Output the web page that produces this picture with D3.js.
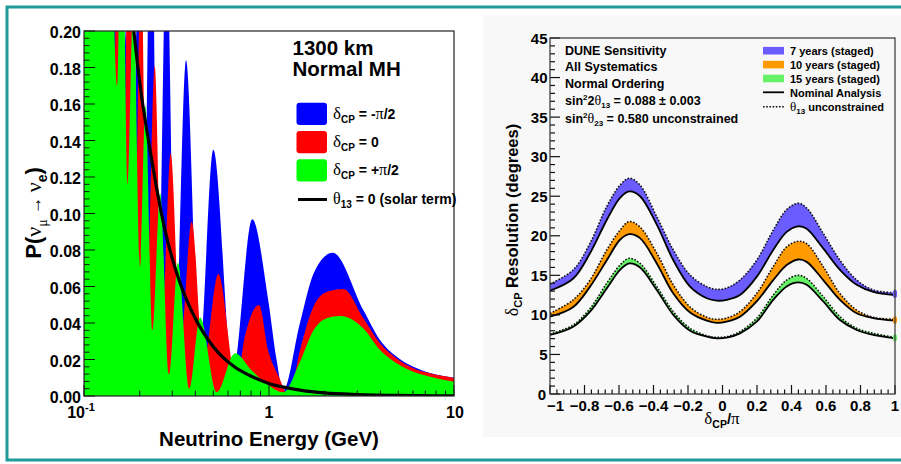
<!DOCTYPE html>
<html><head><meta charset="utf-8">
<script src="https://cdn.jsdelivr.net/npm/d3@7/dist/d3.min.js"></script>
<style>
body{margin:0;background:#fff}
svg{display:block}
text{font-family:"Liberation Sans",Arial,Helvetica,sans-serif;font-weight:bold;fill:#000}
.gr{font-family:"Liberation Serif","DejaVu Serif",serif;font-weight:normal}
</style>
</head><body>
<svg id="c" width="901" height="464"></svg>
<script>
// ---------- LEFT PANEL DATA: P(numu -> nue) vs neutrino energy (GeV) ----------
const probBlue = [ // delta_CP = -pi/2
  [0.100,0.30],[0.140,0.26],[0.150,0.20],[0.160,0.10],[0.168,0.20],[0.182,0.09],[0.195,0.22],[0.211,0.07],
  [0.230,0.30],[0.252,0.05],[0.279,0.25],[0.3125,0.035],[0.356,0.184],[0.420,0.022],[0.500,0.135],
  [0.637,0.012],[0.812,0.0968],[0.990,0.0526],[1.10,0.0196],[1.19,0.003],[1.47,0.040],[1.74,0.067],
  [2.21,0.0785],[3.24,0.047],[3.98,0.0307],[4.90,0.0215],[6.03,0.016],[7.41,0.0126],[10,0.0100]
];
const probRed = [ // delta_CP = 0
  [0.100,0.45],[0.130,0.20],[0.145,0.15],[0.154,0.37],[0.164,0.12],[0.175,0.30],[0.189,0.09],[0.203,0.24],
  [0.220,0.065],[0.241,0.181],[0.265,0.045],[0.294,0.133],[0.333,0.030],[0.382,0.0955],[0.444,0.018],
  [0.532,0.0668],[0.667,0.008],[0.740,0.0325],[0.883,0.0499],[0.990,0.025],[1.13,0.0106],[1.28,0.0],
  [1.47,0.025],[1.74,0.049],[2.05,0.057],[2.52,0.0586],[3.24,0.0426],[3.98,0.0289],[4.90,0.0206],
  [6.03,0.0152],[7.41,0.0124],[10,0.0099]
];
const probGreen = [ // delta_CP = +pi/2
  [0.100,0.40],[0.125,0.32],[0.140,0.26],[0.151,0.17],[0.160,0.30],[0.172,0.116],[0.185,0.22],[0.201,0.071],
  [0.215,0.159],[0.234,0.036],[0.258,0.111],[0.288,0.012],[0.322,0.073],[0.370,0.004],[0.424,0.043],
  [0.521,0.002],[0.655,0.0234],[0.806,0.014],[0.990,0.006],[1.19,0.002],[1.47,0.0188],[1.74,0.036],
  [2.05,0.0426],[2.42,0.0438],[3.24,0.037],[3.98,0.0252],[4.90,0.0179],[6.03,0.0133],[7.41,0.0106],[10,0.0078]
];
const probSolar = [ // theta13 = 0 (solar term)
  [0.170,0.24],[0.186,0.20],[0.200,0.172],[0.230,0.132],[0.271,0.093],[0.333,0.061],[0.393,0.044],
  [0.500,0.027],[0.650,0.016],[0.804,0.0108],[1.00,0.0069],[1.22,0.0047],[1.50,0.0031],[2.00,0.0017],
  [3.00,0.0008],[5.00,0.0003],[10,0.0001]
];
const probYTicks = [0,0.02,0.04,0.06,0.08,0.10,0.12,0.14,0.16,0.18,0.20];
const energyTicks = [0.1,1,10];

// ---------- RIGHT PANEL DATA: delta_CP resolution (degrees) vs delta_CP/pi ----------
const deltaGrid = [-1,-0.865,-0.768,-0.671,-0.594,-0.54,-0.478,-0.381,-0.285,-0.188,-0.091,-0.034,
  0.024,0.101,0.198,0.294,0.372,0.439,0.488,0.584,0.681,0.778,0.874,1.0];
const res7Unc  = [13.9,15.7,19.05,23.7,26.4,27.27,26.4,22.4,18.2,15.04,13.57,13.23,13.4,14.4,16.9,20.7,23.3,24.1,23.5,20.3,16.9,14.4,13.15,12.8];
const res7Nom  = [13.06,14.6,17.8,22.0,24.8,25.6,25.0,21.4,16.9,13.57,12.1,11.8,11.9,12.5,14.8,18.2,20.5,21.2,20.9,18.4,15.7,13.8,12.9,12.5];
const res10Unc = [10.2,11.9,14.4,18.2,20.7,21.8,21.1,17.8,13.8,11.0,9.7,9.44,9.6,10.4,12.7,16.1,18.6,19.3,19.0,16.1,12.7,10.6,9.7,9.44];
const res10Nom = [9.77,11.0,13.57,16.9,19.5,20.2,19.7,16.5,12.7,10.3,9.27,9.0,9.15,9.77,11.7,14.4,16.3,17.0,16.7,14.4,11.9,10.2,9.6,9.27];
const res15Unc = [7.59,8.72,10.8,14.0,16.3,17.15,16.5,13.57,10.4,8.3,7.37,7.16,7.25,7.88,9.56,12.5,14.4,15.0,14.6,12.3,9.77,8.3,7.67,7.16];
const res15Nom = [7.46,8.5,10.4,13.35,15.7,16.5,16.0,13.15,10.0,8.0,7.25,7.04,7.12,7.67,9.14,11.9,13.6,14.1,13.8,11.7,9.35,8.09,7.46,7.04];
const resYTicks = [0,5,10,15,20,25,30,35,40,45];
const deltaTicks = [-1,-0.8,-0.6,-0.4,-0.2,0,0.2,0.4,0.6,0.8,1];
const bandLabels = ["7 years (staged)","10 years (staged)","15 years (staged)"];
const bandColors = ["#6b5cff","#ff9a00","#66f266"];
const infoLines = ["DUNE Sensitivity","All Systematics","Normal Ordering"];

// ---------- helpers ----------
const svg = d3.select('#c');
function rich(g, x, y, parts, opts) {
  opts = opts || {};
  const t = g.append('text').attr('x',x).attr('y',y).attr('font-size',opts.size||14);
  if (opts.anchor) t.attr('text-anchor',opts.anchor);
  if (opts.transform) t.attr('transform',opts.transform);
  let shift = 0;
  parts.forEach(p => {
    const s = t.append('tspan').text(p.t);
    const target = p.dy || 0;
    if (target !== shift) { s.attr('dy', target - shift); shift = target; }
    if (p.size) s.attr('font-size', p.size);
    if (p.gr) s.attr('class','gr');
  });
  return t;
}

// ---------- background & frame ----------
svg.append('rect').attr('width',901).attr('height',464).attr('fill','#fff');
svg.append('rect').attr('x',483).attr('y',15).attr('width',418).attr('height',422).attr('fill','#f8f8f8');
svg.append('path').attr('d','M905,7 H7 V460 H905').attr('fill','none').attr('stroke','#1f9c9a').attr('stroke-width',3);

// ================= LEFT PANEL =================
const L = {x0:84, x1:454, y0:31, y1:396};
const xE = d3.scaleLog().domain([0.1,10]).range([L.x0,L.x1]);
const yP = d3.scaleLinear().domain([0,0.2]).range([L.y1,L.y0]);
const gl = svg.append('g');
gl.append('clipPath').attr('id','clipL').append('rect')
  .attr('x',L.x0).attr('y',L.y0).attr('width',L.x1-L.x0).attr('height',L.y1-L.y0);
const areaP = d3.area().x(d=>xE(d[0])).y0(yP(0)).y1(d=>yP(d[1])).curve(d3.curveMonotoneX);
const gf = gl.append('g').attr('clip-path','url(#clipL)');
gf.append('path').datum(probBlue).attr('d',areaP).attr('fill','#0000ff');
gf.append('path').datum(probRed).attr('d',areaP).attr('fill','#ff0000');
gf.append('path').datum(probGreen).attr('d',areaP).attr('fill','#00ff00');
gf.append('path').datum(probSolar)
  .attr('d', d3.line().x(d=>xE(d[0])).y(d=>yP(d[1])).curve(d3.curveMonotoneX))
  .attr('fill','none').attr('stroke','#000').attr('stroke-width',3.2);

// ticks left y
const ytk = d3.range(0,0.2001,0.004);
ytk.forEach((v,i)=>{
  const major = i%5===0;
  gl.append('line').attr('x1',L.x0).attr('x2',L.x0+(major?11:5.5))
    .attr('y1',yP(v)).attr('y2',yP(v)).attr('stroke','#111').attr('stroke-width',1);
});
probYTicks.forEach(v=>{
  gl.append('text').attr('x',81).attr('y',yP(v)+7).attr('text-anchor','end')
    .attr('font-size',16).text(d3.format('.2f')(v));
});
// ticks left x (log)
[0.1,1].forEach(dec=>{
  for (let k=2;k<=9;k++){
    const v=dec*k;
    gl.append('line').attr('x1',xE(v)).attr('x2',xE(v)).attr('y1',L.y1).attr('y2',L.y1-5.5)
      .attr('stroke','#111').attr('stroke-width',1);
  }
});
energyTicks.forEach(v=>{
  gl.append('line').attr('x1',xE(v)).attr('x2',xE(v)).attr('y1',L.y1).attr('y2',L.y1-11)
    .attr('stroke','#111').attr('stroke-width',1);
});
rich(gl, xE(0.1)-3, 418, [{t:'10'},{t:'-1',dy:-7,size:11}], {size:16,anchor:'middle'});
gl.append('text').attr('x',xE(1)).attr('y',418).attr('text-anchor','middle').attr('font-size',16).text('1');
gl.append('text').attr('x',xE(10)+1).attr('y',418).attr('text-anchor','middle').attr('font-size',16).text('10');
// frame
gl.append('rect').attr('x',L.x0).attr('y',L.y0).attr('width',L.x1-L.x0).attr('height',L.y1-L.y0)
  .attr('fill','none').attr('stroke','#222').attr('stroke-width',1.2);
// axis titles
gl.append('text').attr('x',269).attr('y',446).attr('text-anchor','middle').attr('font-size',20.5)
  .text('Neutrino Energy (GeV)');
rich(gl, 0, 0, [{t:'P('},{t:'ν',gr:1},{t:'μ',gr:1,dy:6,size:14},{t:' → ',gr:1,size:18},{t:'ν',gr:1},
  {t:'e',dy:6,size:14},{t:')'}], {size:22,anchor:'middle',transform:'translate(41,213) rotate(-90)'});
// legend
gl.append('text').attr('x',292.5).attr('y',55).attr('font-size',20.5).text('1300 km');
gl.append('text').attr('x',292.5).attr('y',76).attr('font-size',20.5).text('Normal MH');
const legL = [
  {c:'#0000ff', y:102.7, txt:' = -'},
  {c:'#ff0000', y:131, txt:' = 0'},
  {c:'#00ff00', y:159.3, txt:' = +'}
];
legL.forEach((e,i)=>{
  gl.append('rect').attr('x',296.5).attr('y',e.y).attr('width',30.5).attr('height',22.3)
    .attr('rx',3).attr('fill',e.c);
  const parts=[{t:'δ',gr:1,size:17},{t:'CP',dy:4,size:10},{t:e.txt}];
  if(i!==1){ parts.push({t:'π',gr:1,size:16}); parts.push({t:'/2'}); }
  rich(gl, 333, e.y+16, parts, {size:14});
});
gl.append('line').attr('x1',298).attr('x2',327).attr('y1',199.5).attr('y2',199.5)
  .attr('stroke','#000').attr('stroke-width',3);
rich(gl, 333, 204, [{t:'θ',gr:1,size:16},{t:'13',dy:4,size:10},{t:' = 0 (solar term)'}], {size:14});

// ================= RIGHT PANEL =================
const R = {x0:550, x1:895, y0:38, y1:394};
const xD = d3.scaleLinear().domain([-1,1]).range([R.x0,R.x1]);
const yR = d3.scaleLinear().domain([0,45]).range([R.y1,R.y0]);
const gr = svg.append('g');
gr.append('clipPath').attr('id','clipR').append('rect')
  .attr('x',R.x0).attr('y',R.y0).attr('width',R.x1-R.x0).attr('height',R.y1-R.y0);
const gb = gr.append('g').attr('clip-path','url(#clipR)');
const bands = [[res7Nom,res7Unc],[res10Nom,res10Unc],[res15Nom,res15Unc]];
const curve = d3.curveCatmullRom.alpha(0.5);
bands.forEach((b,i)=>{
  const idx = d3.range(deltaGrid.length);
  gb.append('path').datum(idx)
    .attr('d', d3.area().x(j=>xD(deltaGrid[j])).y0(j=>yR(b[0][j])).y1(j=>yR(b[1][j])).curve(curve))
    .attr('fill', bandColors[i]);
  gb.append('path').datum(idx)
    .attr('d', d3.line().x(j=>xD(deltaGrid[j])).y(j=>yR(b[1][j])).curve(curve))
    .attr('fill','none').attr('stroke','#111').attr('stroke-width',1.6).attr('stroke-dasharray','1.6,1.6');
  gb.append('path').datum(idx)
    .attr('d', d3.line().x(j=>xD(deltaGrid[j])).y(j=>yR(b[0][j])).curve(curve))
    .attr('fill','none').attr('stroke','#000').attr('stroke-width',1.8);
});
// small end markers of the bands at delta = +1
bands.forEach((b,i)=>{
  const n = deltaGrid.length-1;
  gr.append('rect').attr('x',xD(deltaGrid[n])-2).attr('width',4)
    .attr('y',yR(b[1][n])-3).attr('height',yR(b[0][n])-yR(b[1][n])+6)
    .attr('rx',2).attr('fill',bandColors[i]);
});
// ticks right y
d3.range(0,45.01,1).forEach((v,i)=>{
  const major = i%5===0;
  gr.append('line').attr('x1',R.x0).attr('x2',R.x0+(major?10:5)).attr('y1',yR(v)).attr('y2',yR(v))
    .attr('stroke','#111').attr('stroke-width',1.2);
});
resYTicks.forEach(v=>{
  gr.append('text').attr('x',v===0?546:547.5).attr('y',yR(v)+5.5).attr('text-anchor','end').attr('font-size',15).text(v);
});
// ticks right x
d3.range(0,51).forEach(i=>{
  const v=-1+i*0.04;
  const major = i%5===0;
  gr.append('line').attr('x1',xD(v)).attr('x2',xD(v)).attr('y1',R.y1).attr('y2',R.y1-(major?9:4.5))
    .attr('stroke','#111').attr('stroke-width',1.2);
});
const fmtD = d => d===0 ? '0' : (d<0?'−':'') + String(+Math.abs(d).toFixed(1));
deltaTicks.forEach(v=>{
  const t = gr.append('text').attr('y',411).attr('font-size',15).text(fmtD(v));
  if (v===-1) t.attr('x',547).attr('text-anchor','start');
  else t.attr('x',xD(v)).attr('text-anchor','middle');
});
gr.append('rect').attr('x',R.x0).attr('y',R.y0).attr('width',R.x1-R.x0).attr('height',R.y1-R.y0)
  .attr('fill','none').attr('stroke','#333').attr('stroke-width',1.2);
// axis titles
rich(gr, 722, 424, [{t:'δ',gr:1,size:17},{t:'CP',dy:4,size:10.5},{t:'/',dy:0},{t:'π',gr:1,size:17}], {size:15,anchor:'middle'});
rich(gr, 0, 0, [{t:'δ',gr:1,size:18},{t:'CP',dy:4,size:11},{t:' Resolution (degrees)',dy:0}],
  {size:16.5,anchor:'middle',transform:'translate(518,220) rotate(-90)'});
// info text
infoLines.forEach((s,i)=>{
  gr.append('text').attr('x',565).attr('y',54.5+i*16.8).attr('font-size',12.5).text(s);
});
rich(gr, 565, 105, [{t:'sin'},{t:'2',dy:-5,size:8},{t:'2',dy:0},{t:'θ',gr:1,size:14},{t:'13',dy:3,size:8},{t:' = 0.088 '+'\u00B1'+' 0.003',dy:0}], {size:12.5});
rich(gr, 565, 122.5, [{t:'sin'},{t:'2',dy:-5,size:8},{t:'θ',gr:1,size:14,dy:0},{t:'23',dy:3,size:8},{t:' = 0.580 unconstrained',dy:0}], {size:12.5});
// right legend
bandLabels.forEach((s,i)=>{
  const yc = 50.7 + i*13.9;
  gr.append('rect').attr('x',763).attr('y',yc-3.8).attr('width',21).attr('height',7.6).attr('fill',bandColors[i]);
  gr.append('text').attr('x',790).attr('y',yc+4.3).attr('font-size',11).text(s);
});
gr.append('line').attr('x1',763).attr('x2',784).attr('y1',92.3).attr('y2',92.3).attr('stroke','#000').attr('stroke-width',1.8);
gr.append('text').attr('x',790).attr('y',96.6).attr('font-size',11).text('Nominal Analysis');
gr.append('line').attr('x1',763).attr('x2',784).attr('y1',106.7).attr('y2',106.7).attr('stroke','#111')
  .attr('stroke-width',1.6).attr('stroke-dasharray','1.6,1.6');
rich(gr, 790, 111, [{t:'θ',gr:1,size:13},{t:'13',dy:3,size:8},{t:' unconstrained',dy:0}], {size:11});
</script>
</body></html>
